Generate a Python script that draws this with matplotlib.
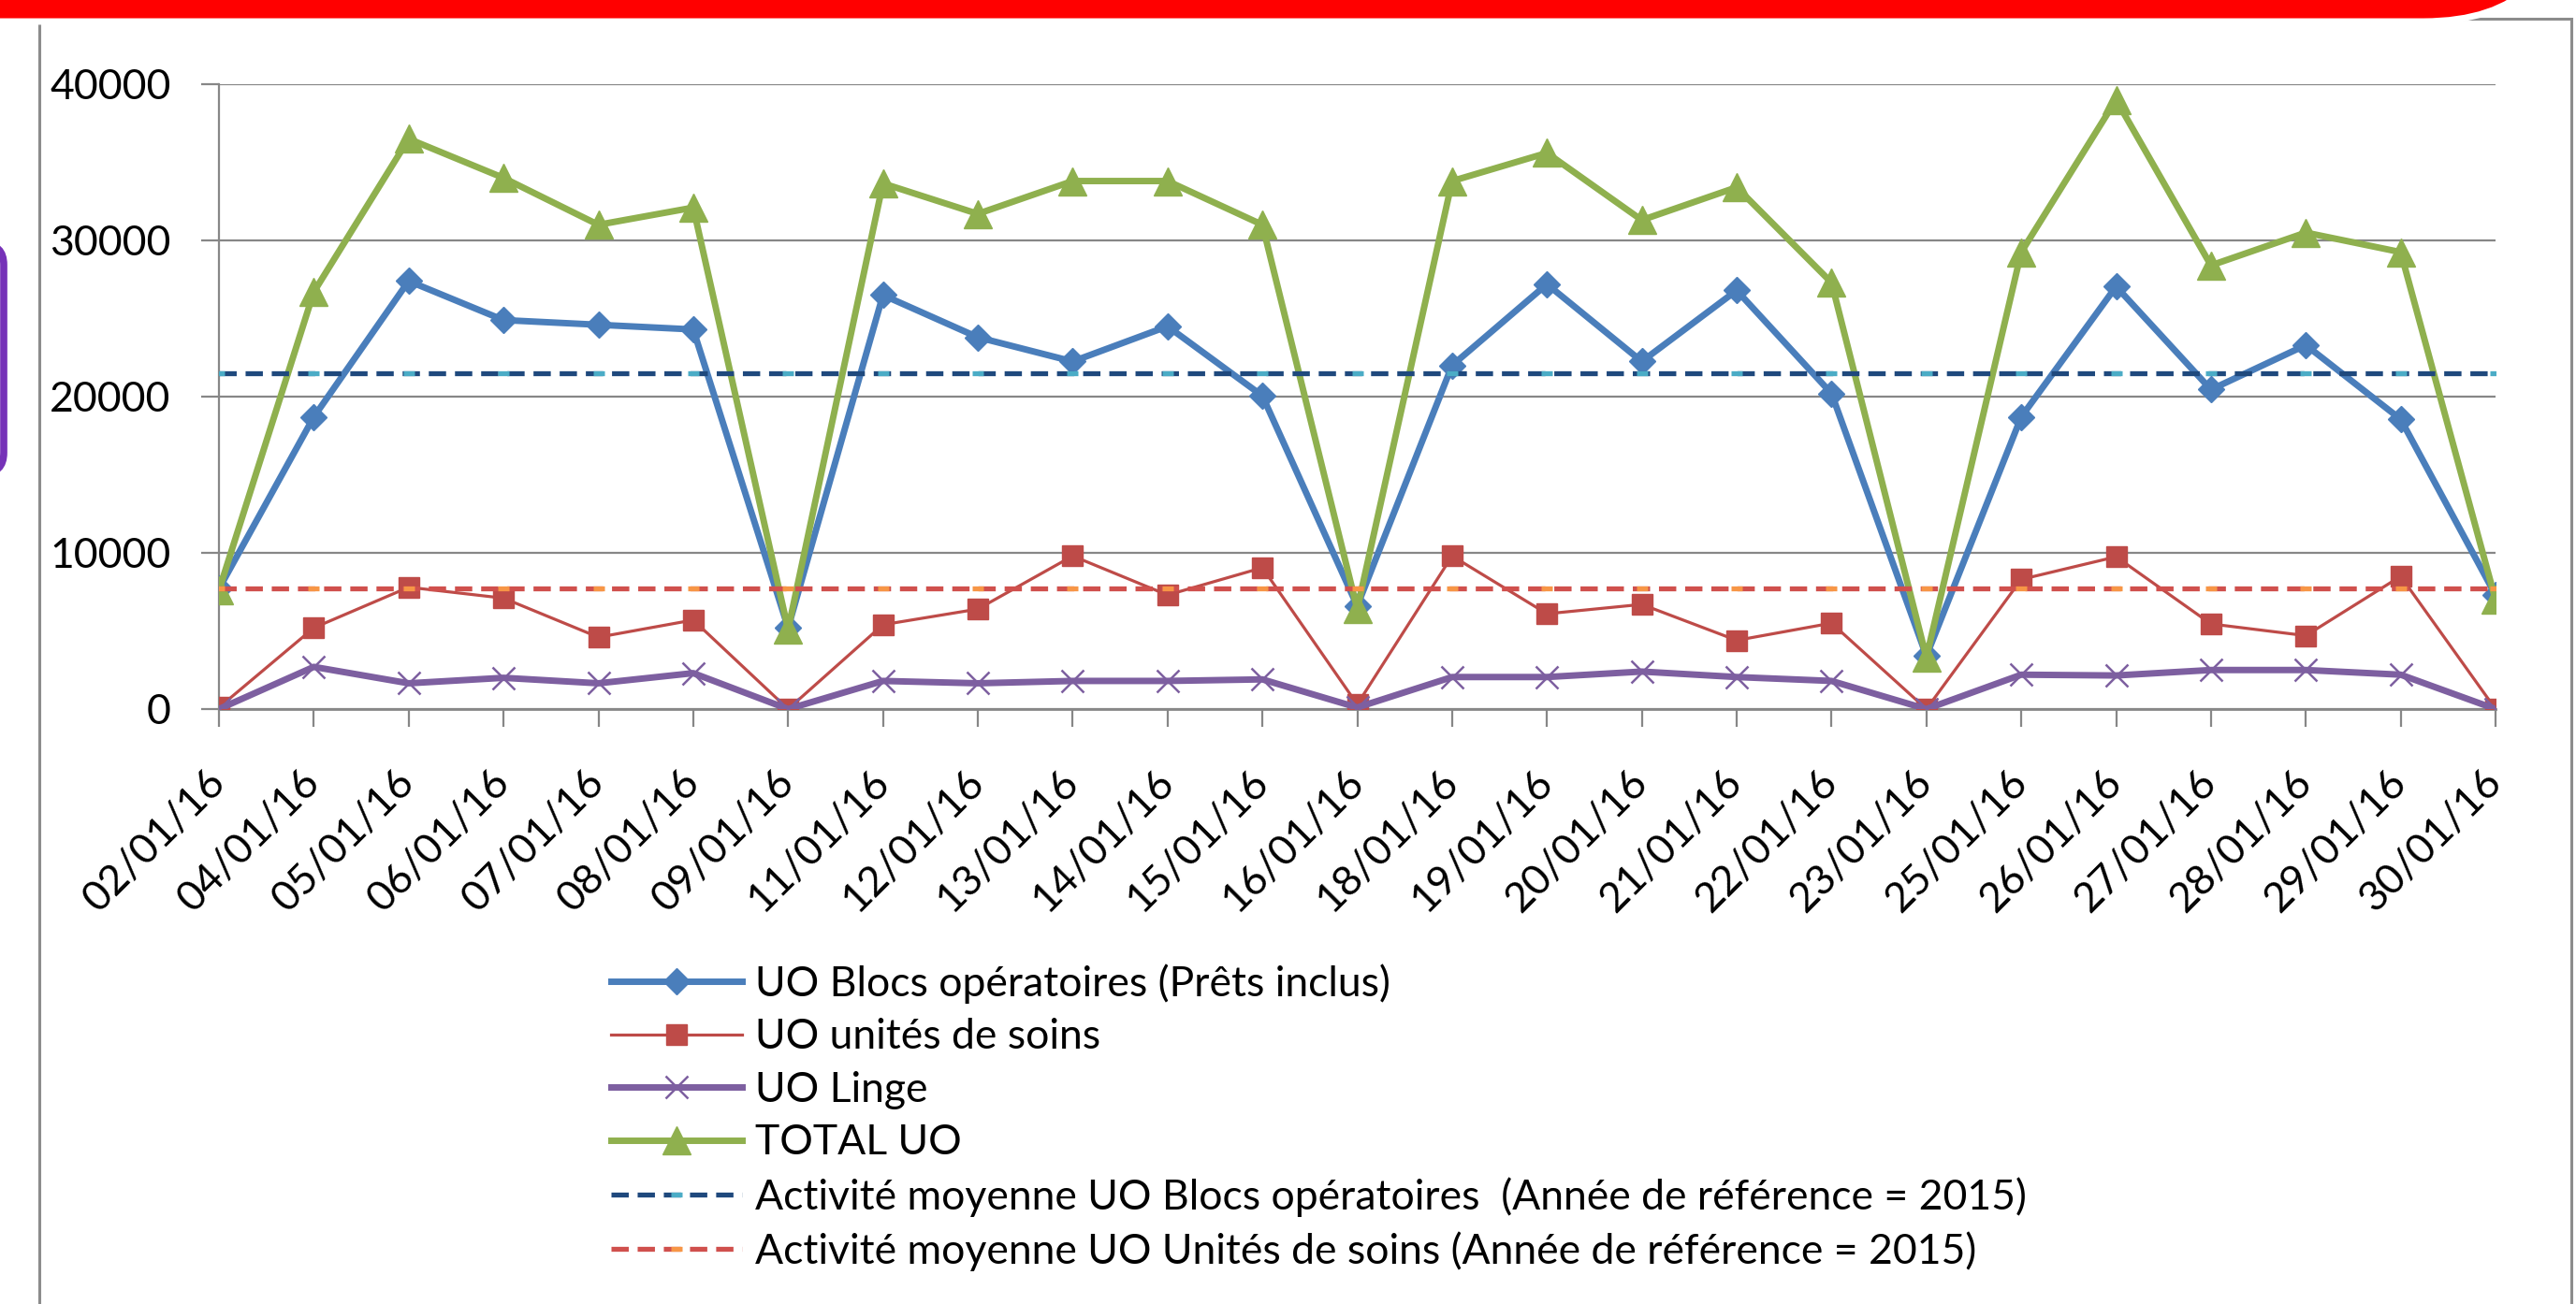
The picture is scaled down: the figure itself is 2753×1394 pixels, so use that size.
import matplotlib
matplotlib.use("Agg")
import matplotlib.pyplot as plt
from matplotlib.patches import FancyBboxPatch, Rectangle

plt.rcParams['font.family'] = ['Lato', 'DejaVu Sans']

# data
dates = ['02/01/16', '04/01/16', '05/01/16', '06/01/16', '07/01/16', '08/01/16', '09/01/16',
         '11/01/16', '12/01/16', '13/01/16', '14/01/16', '15/01/16', '16/01/16',
         '18/01/16', '19/01/16', '20/01/16', '21/01/16', '22/01/16', '23/01/16',
         '25/01/16', '26/01/16', '27/01/16', '28/01/16', '29/01/16', '30/01/16']
blocs = [7700, 18700, 27400, 24900, 24600, 24300, 5200, 26500, 23800, 22250, 24500, 20050, 6600,
         22000, 27200, 22250, 26800, 20200, 3400, 18700, 27050, 20450, 23300, 18550, 7300]
soins = [100, 5200, 7800, 7100, 4600, 5700, 0, 5400, 6400, 9800, 7300, 9050, 300,
         9800, 6100, 6700, 4400, 5500, 0, 8300, 9750, 5450, 4700, 8500, 0]
linge = [0, 2700, 1650, 2000, 1650, 2300, 0, 1800, 1650, 1800, 1800, 1900, 100,
         2050, 2050, 2400, 2050, 1800, 0, 2200, 2150, 2500, 2500, 2200, 0]
total = [7600, 26700, 36500, 34000, 31000, 32100, 5100, 33650, 31700, 33800, 33800, 31000, 6400,
         33800, 35600, 31300, 33400, 27300, 3300, 29250, 39000, 28400, 30500, 29250, 7000]
avg_blocs = 21500
avg_soins = 7700

labels = ['UO Blocs opératoires (Prêts inclus)',
          'UO unités de soins',
          'UO Linge',
          'TOTAL UO',
          'Activité moyenne UO Blocs opératoires  (Année de référence = 2015)',
          'Activité moyenne UO Unités de soins (Année de référence = 2015)']

W, H = 2753, 1394
fig = plt.figure(figsize=(W / 100, H / 100), dpi=100)

# background decorations in pixel coordinates
bg = fig.add_axes([0, 0, 1, 1])
bg.set_xlim(0, W)
bg.set_ylim(H, 0)
bg.axis('off')
bg.add_patch(Rectangle((42, 20), 2706, 1500, fill=False, edgecolor='#8c8c8c', lw=2.2))
bg.add_patch(FancyBboxPatch((-400, -400), 3144, 423,
                            boxstyle='round,pad=0,rounding_size=154',
                            facecolor='#ff0000', edgecolor='white', lw=5))
bg.add_patch(FancyBboxPatch((-300, 261), 304, 245,
                            boxstyle='round,pad=0,rounding_size=22',
                            facecolor='white', edgecolor='#7632b8', lw=5.5))

ax = fig.add_axes([234 / W, 1 - 758 / H, (2667 - 234) / W, (758 - 90) / H])
x = list(range(len(dates)))

grey = '#878787'
l1, = ax.plot(x, blocs, color='#4a7ebb', lw=5, marker='D', ms=14, zorder=3)
l2, = ax.plot(x, soins, color='#be4b48', lw=2.3, marker='s', ms=16, zorder=3)
l3, = ax.plot(x, linge, color='#7d5fa0', lw=5, marker='x', ms=17, mew=1.8, zorder=4)
l4, = ax.plot(x, total, color='#8fb04e', lw=5, marker='^', ms=21, zorder=4)
l5, = ax.plot(x, [avg_blocs] * len(x), color='#1f497d', lw=3.8, dashes=(3.5, 1.8),
              marker='_', ms=9, mew=3.8, mec='#4bacc6', zorder=5)
l6, = ax.plot(x, [avg_soins] * len(x), color='#d0504d', lw=3.8, dashes=(3.5, 1.8),
              marker='_', ms=9, mew=3.8, mec='#f79646', zorder=5)

ax.set_xlim(0, len(dates) - 1)
ax.set_ylim(0, 40000)
ax.set_yticks(range(0, 40001, 10000))
ax.set_xticks(x)
ax.set_xticklabels(dates, rotation=45, ha='right', va='center', rotation_mode='anchor')
ax.tick_params(axis='y', length=14, width=1.6, color=grey, pad=23, labelsize=32)
ax.tick_params(axis='x', length=14, width=1.6, color=grey, pad=38, labelsize=32)
ax.grid(axis='y', color=grey, lw=1.6)
ax.set_axisbelow(True)
for s in ['top', 'right']:
    ax.spines[s].set_visible(False)
ax.spines['left'].set_color(grey)
ax.spines['left'].set_linewidth(1.6)
ax.spines['bottom'].set_color(grey)
ax.spines['bottom'].set_linewidth(2)

fig.legend([l1, l2, l3, l4, l5, l6], labels, loc='upper left',
           bbox_to_anchor=(653 / W, 1 - 1030 / H), frameon=False, fontsize=32,
           handlelength=3.15, handletextpad=0.32, labelspacing=0.35, borderpad=0,
           borderaxespad=0, numpoints=1)

fig.savefig('out.png', dpi=100)
